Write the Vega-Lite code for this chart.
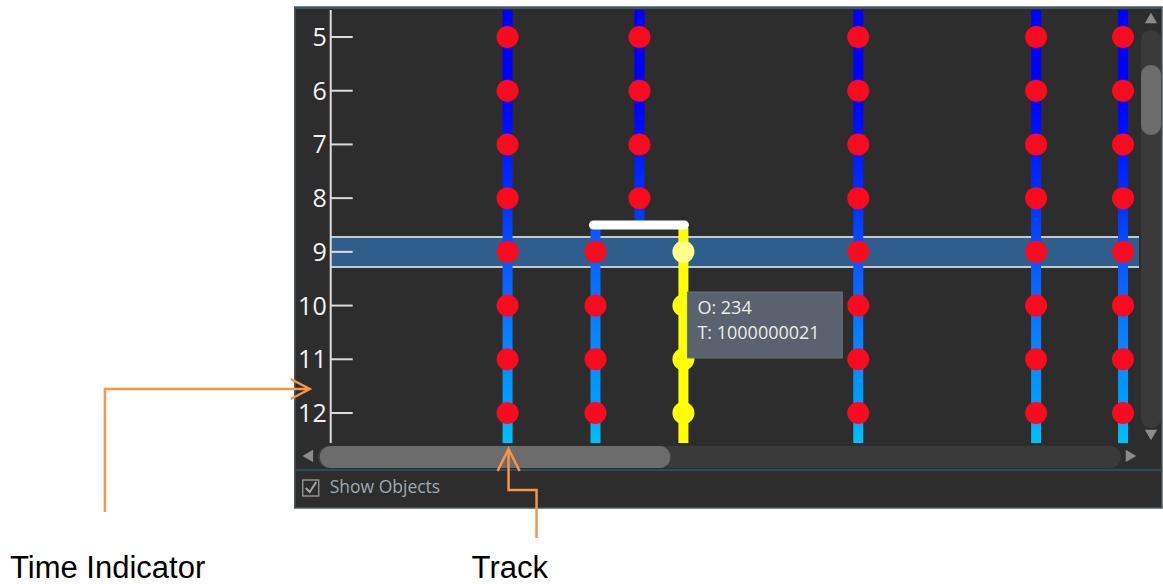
{
  "$schema": "https://vega.github.io/schema/vega-lite/v6.json",
  "autosize": {"type": "fit", "contains": "padding"},
  "width": 1163,
  "height": 584,
  "padding": 0,
  "background": "#ffffff",
  "config": {"view": {"stroke": null}},
  "datasets": {
    "panel": [{"x": 295, "x2": 1163, "t": 4.4415, "t2": 13.7687}],
    "panelTop": [{"x": 295, "x2": 1163, "t": 4.4415, "t2": 4.48}],
    "hTrough": [{"x": 318, "x2": 1122, "t": 12.6144, "t2": 13.024}],
    "hThumb": [{"x": 320, "x2": 671, "t": 12.6144, "t2": 13.024}],
    "vTrough": [{"x": 1142, "x2": 1162, "t": 4.8697, "t2": 12.2794}],
    "vThumb": [{"x": 1142, "x2": 1162, "t": 5.5213, "t2": 6.8245}],
    "arrows": [
      {"x": 308, "t": 12.8, "dir": "left"},
      {"x": 1132, "t": 12.8, "dir": "right"},
      {"x": 1152, "t": 4.6463, "dir": "up"},
      {"x": 1152, "t": 12.4097, "dir": "down"}
    ],
    "separator": [{"x": 295, "x2": 1163, "t": 13.0612}],
    "band": [{"x": 331, "x2": 1140, "t": 8.7234, "t2": 9.282}],
    "bandLines": [{"x": 331, "x2": 1140, "t": 8.7234}, {"x": 331, "x2": 1140, "t": 9.282}],
    "axisLine": [{"x": 331, "t": 4.4973, "t2": 12.5586}],
    "ticks": [
      {"x": 331, "x2": 353, "t": 5, "label": "5"},
      {"x": 331, "x2": 353, "t": 6, "label": "6"},
      {"x": 331, "x2": 353, "t": 7, "label": "7"},
      {"x": 331, "x2": 353, "t": 8, "label": "8"},
      {"x": 331, "x2": 353, "t": 9, "label": "9"},
      {"x": 331, "x2": 353, "t": 10, "label": "10"},
      {"x": 331, "x2": 353, "t": 11, "label": "11"},
      {"x": 331, "x2": 353, "t": 12, "label": "12"}
    ],
    "longTracks": [
      {"x": 503, "x2": 513, "t": 4.4973, "t2": 12.5586},
      {"x": 854, "x2": 864, "t": 4.4973, "t2": 12.5586},
      {"x": 1032, "x2": 1042, "t": 4.4973, "t2": 12.5586},
      {"x": 1119, "x2": 1129, "t": 4.4973, "t2": 12.5586}
    ],
    "topTrack": [{"x": 635, "x2": 645, "t": 4.4973, "t2": 8.4442}],
    "bottomTrack": [{"x": 591, "x2": 601, "t": 8.5559, "t2": 12.5586}],
    "yellowTrack": [{"x": 679, "x2": 689, "t": 8.5559, "t2": 12.5586}],
    "connector": [{"x": 594, "x2": 685, "t": 8.5}],
    "redPoints": [
      {"x": 508, "t": 5}, {"x": 508, "t": 6}, {"x": 508, "t": 7}, {"x": 508, "t": 8},
      {"x": 508, "t": 9}, {"x": 508, "t": 10}, {"x": 508, "t": 11}, {"x": 508, "t": 12},
      {"x": 640, "t": 5}, {"x": 640, "t": 6}, {"x": 640, "t": 7}, {"x": 640, "t": 8},
      {"x": 596, "t": 9}, {"x": 596, "t": 10}, {"x": 596, "t": 11}, {"x": 596, "t": 12},
      {"x": 859, "t": 5}, {"x": 859, "t": 6}, {"x": 859, "t": 7}, {"x": 859, "t": 8},
      {"x": 859, "t": 9}, {"x": 859, "t": 10}, {"x": 859, "t": 11}, {"x": 859, "t": 12},
      {"x": 1037, "t": 5}, {"x": 1037, "t": 6}, {"x": 1037, "t": 7}, {"x": 1037, "t": 8},
      {"x": 1037, "t": 9}, {"x": 1037, "t": 10}, {"x": 1037, "t": 11}, {"x": 1037, "t": 12},
      {"x": 1124, "t": 5}, {"x": 1124, "t": 6}, {"x": 1124, "t": 7}, {"x": 1124, "t": 8},
      {"x": 1124, "t": 9}, {"x": 1124, "t": 10}, {"x": 1124, "t": 11}, {"x": 1124, "t": 12}
    ],
    "yellowPoints": [{"x": 684, "t": 10}, {"x": 684, "t": 11}, {"x": 684, "t": 12}],
    "selectedPoint": [{"x": 684, "t": 9}],
    "tooltipBox": [{"x": 688, "x2": 843, "t": 9.7474, "t2": 10.9761}],
    "tooltipText": [
      {"x": 698, "t": 10.0639, "label": "O: 234"},
      {"x": 698, "t": 10.5293, "label": "T: 1000000021"}
    ],
    "checkbox": [{"x": 303, "x2": 319, "t": 13.2474, "t2": 13.5452}],
    "checkmark": [
      {"x": 306, "t": 13.3963, "o": 1},
      {"x": 310, "t": 13.4708, "o": 2},
      {"x": 316.5, "t": 13.2846, "o": 3}
    ],
    "showObjects": [{"x": 330, "t": 13.3963, "label": "Show Objects"}],
    "callouts": [
      {"g": "time", "x": 105, "t": 13.8431, "o": 1},
      {"g": "time", "x": 105, "t": 11.5533, "o": 2},
      {"g": "time", "x": 309, "t": 11.5533, "o": 3},
      {"g": "timeHead", "x": 291, "t": 11.3671, "o": 1},
      {"g": "timeHead", "x": 310, "t": 11.5533, "o": 2},
      {"g": "timeHead", "x": 291, "t": 11.7395, "o": 3},
      {"g": "track", "x": 537, "t": 14.3272, "o": 1},
      {"g": "track", "x": 537, "t": 13.4336, "o": 2},
      {"g": "track", "x": 509, "t": 13.4336, "o": 3},
      {"g": "track", "x": 509, "t": 12.6703, "o": 4},
      {"g": "trackHead", "x": 498, "t": 13.0798, "o": 1},
      {"g": "trackHead", "x": 509, "t": 12.6703, "o": 2},
      {"g": "trackHead", "x": 520, "t": 13.0798, "o": 3}
    ],
    "captions": [
      {"x": 10, "t": 14.9043, "label": "Time Indicator"},
      {"x": 472, "t": 14.9043, "label": "Track"}
    ]
  },
  "encoding": {
    "x": {"field": "x", "type": "quantitative", "scale": {"domain": [0, 1163], "nice": false, "zero": false}, "axis": null},
    "y": {"field": "t", "type": "quantitative", "scale": {"domain": [4.3112, 15.1836], "nice": false, "zero": false, "reverse": true}, "axis": null}
  },
  "layer": [
    {"data": {"name": "panel"}, "mark": {"type": "rect", "fill": "#2d2d2d", "stroke": "#4f5a5f", "strokeWidth": 1.5},
     "encoding": {"x2": {"field": "x2"}, "y2": {"field": "t2"}}},
    {"data": {"name": "panelTop"}, "mark": {"type": "rect", "fill": "#3f5660"},
     "encoding": {"x2": {"field": "x2"}, "y2": {"field": "t2"}}},
    {"data": {"name": "hTrough"}, "mark": {"type": "rect", "fill": "#3a3a3a", "cornerRadius": 11},
     "encoding": {"x2": {"field": "x2"}, "y2": {"field": "t2"}}},
    {"data": {"name": "hThumb"}, "mark": {"type": "rect", "fill": "#6c6c6c", "cornerRadius": 11},
     "encoding": {"x2": {"field": "x2"}, "y2": {"field": "t2"}}},
    {"data": {"name": "vTrough"}, "mark": {"type": "rect", "fill": "#3a3a3a", "cornerRadius": 10},
     "encoding": {"x2": {"field": "x2"}, "y2": {"field": "t2"}}},
    {"data": {"name": "vThumb"}, "mark": {"type": "rect", "fill": "#6c6c6c", "cornerRadius": 10},
     "encoding": {"x2": {"field": "x2"}, "y2": {"field": "t2"}}},
    {"data": {"name": "arrows"}, "mark": {"type": "point", "filled": true, "color": "#8c8c8c", "opacity": 1, "size": 150},
     "encoding": {"shape": {"field": "dir", "type": "nominal", "legend": null,
       "scale": {"domain": ["left", "right", "up", "down"], "range": ["triangle-left", "triangle-right", "triangle-up", "triangle-down"]}}}},
    {"data": {"name": "separator"}, "mark": {"type": "rule", "color": "#2f4b58", "strokeWidth": 2},
     "encoding": {"x2": {"field": "x2"}}},
    {"data": {"name": "band"}, "mark": {"type": "rect", "fill": "#2f5d8c"},
     "encoding": {"x2": {"field": "x2"}, "y2": {"field": "t2"}}},
    {"data": {"name": "bandLines"}, "mark": {"type": "rule", "color": "#c4cad0", "strokeWidth": 2},
     "encoding": {"x2": {"field": "x2"}}},
    {"data": {"name": "axisLine"}, "mark": {"type": "rule", "color": "#dcdcdc", "strokeWidth": 2},
     "encoding": {"y2": {"field": "t2"}}},
    {"data": {"name": "ticks"}, "mark": {"type": "rule", "color": "#dcdcdc", "strokeWidth": 2},
     "encoding": {"x2": {"field": "x2"}}},
    {"data": {"name": "ticks"}, "mark": {"type": "text", "align": "right", "baseline": "middle", "dx": -4, "dy": 1, "font": "Open Sans", "fontSize": 25, "color": "#f2f2f2"},
     "encoding": {"text": {"field": "label"}}},
    {"data": {"name": "longTracks"},
     "mark": {"type": "rect", "fill": {"gradient": "linear", "x1": 0, "y1": 0, "x2": 0, "y2": 1,
       "stops": [{"offset": 0, "color": "#0000ff"}, {"offset": 0.2, "color": "#0000ff"}, {"offset": 0.45, "color": "#0035ff"}, {"offset": 0.6, "color": "#0a5cff"}, {"offset": 0.78, "color": "#0a84ff"}, {"offset": 0.9, "color": "#009cff"}, {"offset": 1, "color": "#00c0ff"}]}},
     "encoding": {"x2": {"field": "x2"}, "y2": {"field": "t2"}}},
    {"data": {"name": "topTrack"},
     "mark": {"type": "rect", "fill": {"gradient": "linear", "x1": 0, "y1": 0, "x2": 0, "y2": 1,
       "stops": [{"offset": 0, "color": "#0000ff"}, {"offset": 0.45, "color": "#0000ff"}, {"offset": 1, "color": "#0040ff"}]}},
     "encoding": {"x2": {"field": "x2"}, "y2": {"field": "t2"}}},
    {"data": {"name": "bottomTrack"},
     "mark": {"type": "rect", "fill": {"gradient": "linear", "x1": 0, "y1": 0, "x2": 0, "y2": 1,
       "stops": [{"offset": 0, "color": "#0a55ff"}, {"offset": 0.45, "color": "#0a80ff"}, {"offset": 0.8, "color": "#009cff"}, {"offset": 1, "color": "#00c0ff"}]}},
     "encoding": {"x2": {"field": "x2"}, "y2": {"field": "t2"}}},
    {"data": {"name": "yellowTrack"}, "mark": {"type": "rect", "fill": "#ffff00"},
     "encoding": {"x2": {"field": "x2"}, "y2": {"field": "t2"}}},
    {"data": {"name": "connector"}, "mark": {"type": "rule", "color": "#ffffff", "strokeWidth": 9, "strokeCap": "round"},
     "encoding": {"x2": {"field": "x2"}}},
    {"data": {"name": "redPoints"}, "mark": {"type": "circle", "color": "#fa0a1e", "opacity": 1, "size": 484}},
    {"data": {"name": "yellowPoints"}, "mark": {"type": "circle", "color": "#ffff00", "opacity": 1, "size": 484}},
    {"data": {"name": "selectedPoint"}, "mark": {"type": "circle", "color": "#ffff8c", "opacity": 1, "size": 484}},
    {"data": {"name": "tooltipBox"}, "mark": {"type": "rect", "fill": "#59626e", "stroke": "#6a737e", "strokeWidth": 1},
     "encoding": {"x2": {"field": "x2"}, "y2": {"field": "t2"}}},
    {"data": {"name": "tooltipText"}, "mark": {"type": "text", "align": "left", "baseline": "middle", "font": "Open Sans", "fontSize": 18, "color": "#ececec"},
     "encoding": {"text": {"field": "label"}}},
    {"data": {"name": "checkbox"}, "mark": {"type": "rect", "fill": "#2d2d2d", "stroke": "#8e8e8e", "strokeWidth": 1.5},
     "encoding": {"x2": {"field": "x2"}, "y2": {"field": "t2"}}},
    {"data": {"name": "checkmark"}, "mark": {"type": "line", "color": "#a8a8a8", "strokeWidth": 2},
     "encoding": {"order": {"field": "o", "type": "quantitative"}}},
    {"data": {"name": "showObjects"}, "mark": {"type": "text", "align": "left", "baseline": "middle", "font": "Open Sans", "fontSize": 17.5, "color": "#a0a8b0"},
     "encoding": {"text": {"field": "label"}}},
    {"data": {"name": "callouts"}, "mark": {"type": "line", "color": "#f79646", "strokeWidth": 2.5, "strokeJoin": "miter"},
     "encoding": {"detail": {"field": "g", "type": "nominal"}, "order": {"field": "o", "type": "quantitative"}}},
    {"data": {"name": "captions"}, "mark": {"type": "text", "align": "left", "baseline": "middle", "font": "Liberation Sans", "fontSize": 31, "color": "#000000"},
     "encoding": {"text": {"field": "label"}}}
  ]
}
